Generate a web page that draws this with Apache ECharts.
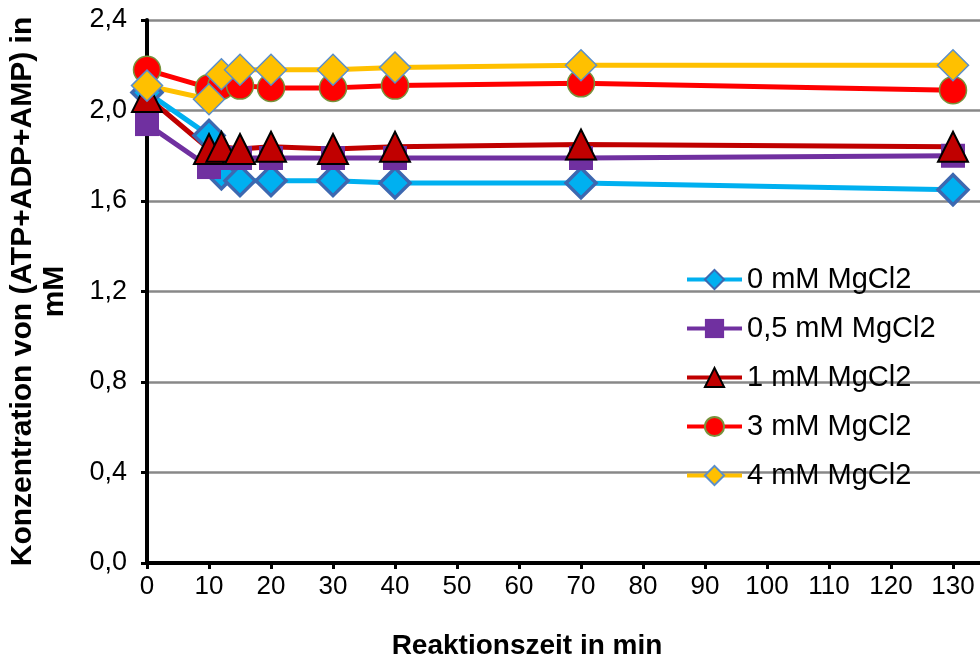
<!DOCTYPE html>
<html>
<head>
<meta charset="utf-8">
<script src="https://cdn.jsdelivr.net/npm/echarts@6/dist/echarts.min.js"></script>
<style>
  html, body { margin: 0; padding: 0; background: #fff; }
  #chart { width: 980px; height: 666px; }
</style>
</head>
<body>
<div id="chart"></div>
<script>
// Reaction times (min)
const times = [0, 10, 12, 15, 20, 30, 40, 70, 130];

// Total adenylate concentration (mM) per MgCl2 level
const mg0   = [2.08, 1.89, 1.72, 1.69, 1.69, 1.69, 1.68, 1.68, 1.65];
const mg05  = [1.94, 1.75, 1.79, 1.79, 1.79, 1.79, 1.79, 1.79, 1.80];
const mg1   = [2.06, 1.83, 1.84, 1.83, 1.84, 1.83, 1.84, 1.85, 1.84];
const mg3   = [2.18, 2.10, 2.11, 2.11, 2.10, 2.10, 2.11, 2.12, 2.09];
const mg4   = [2.11, 2.05, 2.16, 2.18, 2.18, 2.18, 2.19, 2.20, 2.20];

const seriesNames = ['0 mM MgCl2', '0,5 mM MgCl2', '1 mM MgCl2', '3 mM MgCl2', '4 mM MgCl2'];

const pairs = vals => times.map((t, i) => [t, vals[i]]);

const chart = echarts.init(document.getElementById('chart'), null, { renderer: 'canvas' });

const styles = [
  { line: '#00B0F0', symbol: 'diamond',  size: 30, fill: '#00B0F0', border: '#3D68B0', bw: 3.5 },
  { line: '#7030A0', symbol: 'rect',     size: 24, fill: '#7030A0', border: '#7030A0', bw: 0 },
  { line: '#C00000', symbol: 'triangle', size: 30, fill: '#C00000', border: '#000000', bw: 2 },
  { line: '#FF0000', symbol: 'circle',   size: 27, fill: '#FF0000', border: '#77933C', bw: 1.5 },
  { line: '#FFC000', symbol: 'diamond',  size: 31, fill: '#FFC000', border: '#5B8FCB', bw: 1.5 }
];
const data = [mg0, mg05, mg1, mg3, mg4];

const series = data.map((vals, k) => ({
  name: seriesNames[k],
  type: 'line',
  data: pairs(vals),
  symbol: styles[k].symbol,
  symbolSize: styles[k].size,
  showAllSymbol: true,
  lineStyle: { color: styles[k].line, width: 5 },
  itemStyle: { color: styles[k].fill, borderColor: styles[k].border, borderWidth: styles[k].bw },
  emphasis: { disabled: true },
  animation: false
}));

const fmtComma = v => v.toFixed(1).replace('.', ',');
const sans = '"Liberation Sans Narrow", "Liberation Sans", Arial, sans-serif';

chart.setOption({
  backgroundColor: '#ffffff',
  animation: false,
  // plot area runs past the right edge of the canvas; the 140 tick lies outside
  grid: { left: 147, top: 20, width: 868, bottom: 103, containLabel: false, outerBoundsMode: 'none' },
  legend: {
    orient: 'vertical',
    left: 680,
    top: 260,
    itemWidth: 55,
    itemHeight: 24,
    itemGap: 20,
    data: seriesNames,
    lineStyle: { width: 4 },
    textStyle: { fontFamily: '"Liberation Sans", Arial, sans-serif', fontSize: 29, color: '#000' }
  },
  xAxis: {
    type: 'value',
    min: 0,
    max: 140,
    interval: 10,
    name: 'Reaktionszeit in min',
    nameLocation: 'middle',
    nameGap: 69,
    nameTextStyle: {
      fontFamily: sans,
      fontWeight: 'bold', fontSize: 28, color: '#000',
      padding: [0, 108, 0, 0]
    },
    axisLine: { show: true, onZero: false, lineStyle: { color: '#000', width: 4 } },
    axisTick: { show: true, length: 6, lineStyle: { color: '#000', width: 3 } },
    axisLabel: {
      margin: 11,
      fontFamily: sans,
      fontSize: 26, color: '#000'
    },
    splitLine: { show: false }
  },
  yAxis: {
    type: 'value',
    min: 0,
    max: 2.4,
    interval: 0.4,
    name: 'Konzentration von (ATP+ADP+AMP) in\nmM',
    nameLocation: 'middle',
    nameGap: 76,
    nameRotate: 90,
    nameTextStyle: {
      fontFamily: '"Liberation Sans", Arial, sans-serif',
      fontWeight: 'bold', fontSize: 30, color: '#000', lineHeight: 32, align: 'center'
    },
    axisLine: { show: true, lineStyle: { color: '#000', width: 4 } },
    axisTick: { show: true, length: 6, lineStyle: { color: '#000', width: 3 } },
    axisLabel: {
      margin: 20,
      formatter: fmtComma,
      fontFamily: '"Liberation Sans", Arial, sans-serif',
      fontSize: 27, color: '#000'
    },
    splitLine: { show: true, lineStyle: { color: '#888888', width: 2.5 } }
  },
  series: series
});
</script>
</body>
</html>
